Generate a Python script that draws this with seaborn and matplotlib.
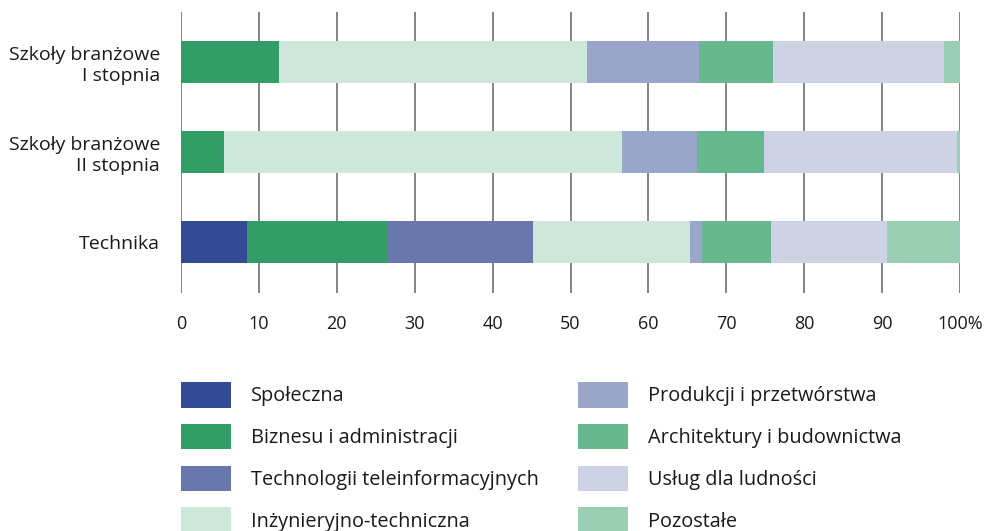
import numpy as np
import pandas as pd
import matplotlib
matplotlib.use("Agg")
import matplotlib.pyplot as plt
from matplotlib.patches import Patch
import seaborn as sns

# school types (rows, top to bottom)
schools = ["Szkoły branżowe\nI stopnia", "Szkoły branżowe\nII stopnia", "Technika"]

# field groups (stack order, left to right)
groups = ["Społeczna", "Biznesu i administracji", "Technologii teleinformacyjnych",
          "Inżynieryjno-techniczna", "Produkcji i przetwórstwa",
          "Architektury i budownictwa", "Usług dla ludności", "Pozostałe"]

# shares in % per school type
spoleczna = [0.0, 0.0, 8.5]
biznes = [12.6, 5.5, 17.9]
teleinf = [0.0, 0.0, 18.8]
inzynier = [39.5, 51.1, 20.1]
produkcja = [14.4, 9.6, 1.6]
architektura = [9.5, 8.7, 8.8]
uslugi = [21.9, 24.7, 14.9]
pozostale = [2.1, 0.4, 9.4]

colors = ["#334a94", "#329d67", "#6878ad", "#cde7da",
          "#99a6c9", "#67b88e", "#cdd2e5", "#9bcfb3"]

df = pd.DataFrame([spoleczna, biznes, teleinf, inzynier, produkcja,
                   architektura, uslugi, pozostale], index=groups, columns=schools).T
cum = df.cumsum(axis=1)

sns.set_style("white")
plt.rcParams["font.family"] = ["Open Sans", "DejaVu Sans"]

fig = plt.figure(figsize=(9.93, 5.31), dpi=100)
ax = fig.add_axes([181 / 993, 1 - 293 / 531, (960 - 181) / 993, (293 - 12) / 531])

# stacked bars: draw cumulative totals from the widest down
for g, c in reversed(list(zip(groups, colors))):
    sns.barplot(x=cum[g].values, y=schools, color=c, orient="h",
                width=0.47, linewidth=0, saturation=1, ax=ax, zorder=2)

ax.set_xlim(0, 100)
ax.set_ylim(2.567, -0.556)
ax.set_xticks(range(0, 101, 10))
ax.set_xticklabels([str(v) for v in range(0, 100, 10)] + ["100%"])
ax.grid(axis="x", color="#6e6e6e", linewidth=1.2, zorder=0)
ax.grid(axis="y", visible=False)
ax.set_axisbelow(True)
for s in ax.spines.values():
    s.set_visible(False)
ax.tick_params(axis="x", length=0, pad=16, labelsize=13, colors="#1a1a1a")
ax.tick_params(axis="y", length=0, pad=15, labelsize=14, colors="#1a1a1a")
for lab in ax.get_yticklabels():
    lab.set_horizontalalignment("right")
    lab.set_multialignment("right")
ax.set_xlabel("")
ax.set_ylabel("")

handles = [Patch(facecolor=c, edgecolor="none") for c in colors]
fs = 14.3
opts = dict(loc="upper left", frameon=False, fontsize=fs, borderpad=0, borderaxespad=0,
            handlelength=2.52, handleheight=1.6, labelspacing=0.82, handletextpad=1.0,
            labelcolor="#1a1a1a")
fig.legend(handles[:4], groups[:4], bbox_to_anchor=(181 / 993, 1 - 382 / 531), **opts)
fig.legend(handles[4:], groups[4:], bbox_to_anchor=(578 / 993, 1 - 382 / 531), **opts)

fig.savefig("out.png", dpi=100)
